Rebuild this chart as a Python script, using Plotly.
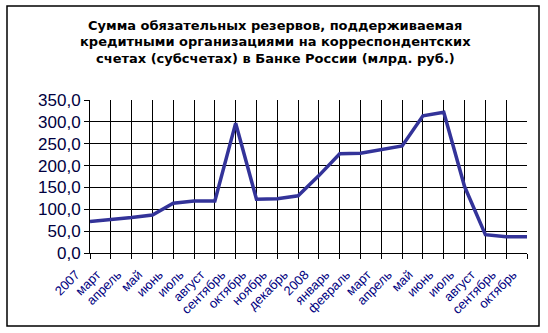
import plotly.graph_objects as go

categories = ["2007", "март", "апрель", "май", "июнь", "июль", "август", "сентябрь",
              "октябрь", "ноябрь", "декабрь", "2008", "январь", "февраль", "март",
              "апрель", "май", "июнь", "июль", "август", "сентябрь", "октябрь"]
values = [72, 76, 81, 87, 114, 119, 119, 297, 123, 124, 131, 177, 227, 228, 237,
          245, 314, 322, 152, 42, 37, 37]
y_ticks = [0, 50, 100, 150, 200, 250, 300, 350]
title_lines = ["Сумма обязательных резервов, поддерживаемая",
               "кредитными организациями на корреспондентских",
               "счетах (субсчетах) в Банке России (млрд. руб.)"]

W, H = 548, 333
L, R, T, B = 90, 21, 100, 80
pw, ph = W - L - R, H - T - B

xs = list(range(len(categories)))

fig = go.Figure()
fig.add_trace(go.Scatter(x=xs, y=values, mode="lines",
                         line=dict(color="#333399", width=3.5), showlegend=False))

fig.update_layout(
    width=W, height=H,
    margin=dict(l=L, r=R, t=T, b=B, pad=0),
    paper_bgcolor="white", plot_bgcolor="white",
    separators=", ",
    font=dict(family="Arial, Liberation Sans, sans-serif"),
    xaxis=dict(
        range=[0, len(categories) - 1], tickmode="array", tickvals=xs, ticktext=categories,
        tickangle=-45, showgrid=True, gridcolor="black", gridwidth=1,
        showline=True, linecolor="black", linewidth=1,
        ticks="outside", ticklen=5, tickcolor="black", zeroline=False,
        ticklabelshift=-14, ticklabelstandoff=3,
        tickfont=dict(size=13, color="#000080"),
    ),
    yaxis=dict(
        range=[0, 350], tickmode="array", tickvals=y_ticks, tickformat=".1f",
        showgrid=True, gridcolor="black", gridwidth=1,
        showline=True, linecolor="black", linewidth=1,
        ticks="outside", ticklen=5, tickcolor="black", zeroline=False,
        tickfont=dict(size=17, color="#000040"),
    ),
)

# title as annotations, one per line
for i, line in enumerate(title_lines):
    fig.add_annotation(text="<b>" + line + "</b>", xref="paper", yref="paper",
                       x=(275 - L) / pw, y=(H - B - (25 + 16.5 * i)) / ph,
                       xanchor="center", yanchor="middle", showarrow=False,
                       font=dict(size=13, color="black",
                                 family="DejaVu Sans, Arial, sans-serif"))

# outer chart border
fig.add_shape(type="rect", xref="paper", yref="paper",
              x0=(7 - L) / pw, x1=(539 - L) / pw,
              y0=(H - B - 326) / ph, y1=(H - B - 6) / ph,
              line=dict(color="black", width=1.5), fillcolor="rgba(0,0,0,0)")

fig.write_html("out.html")
